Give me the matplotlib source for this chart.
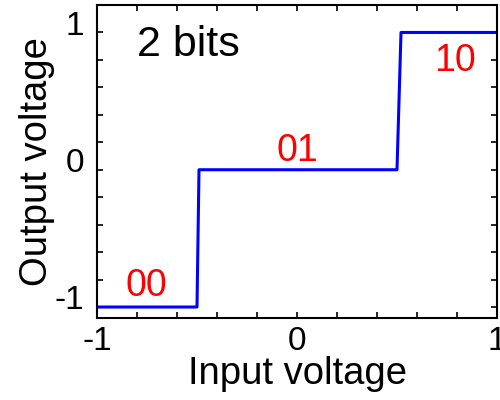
import numpy as np
import matplotlib
matplotlib.use('Agg')
import matplotlib.pyplot as plt
from matplotlib.ticker import MultipleLocator
from matplotlib.transforms import ScaledTranslation

plt.rcParams['font.family'] = ['Liberation Sans', 'DejaVu Sans']
plt.rcParams['axes.unicode_minus'] = False

# transfer curve of a 2-bit quantizer
v_in = [-1, -0.5, -0.49, 0.5, 0.52, 1]
v_out = [-1, -1, 0, 0, 1, 1]

# binary codes written on each level
codes = ['00', '01', '10']
code_x = [-0.755, 0.0, 0.79]
code_y = [-0.85, 0.14, 0.79]

fig = plt.figure(figsize=(5, 4), dpi=100)
ax = fig.add_axes([0.194, 0.205, 0.8, 0.7825])

ax.plot(v_in, v_out, color='#0000ff', lw=2.2)

for c, x, y in zip(codes, code_x, code_y):
    ax.text(x, y, c, color='#ff0000', fontsize=27, ha='center', va='center')

ax.text(-0.545, 0.91, '2 bits', fontsize=31, ha='center', va='center')

ax.set_xlim(-1, 1)
ax.set_ylim(-1.08, 1.2)
ax.set_xticks([-1, 0, 1])
ax.set_yticks([-1, 0, 1])
ax.xaxis.set_minor_locator(MultipleLocator(0.2))
ax.yaxis.set_minor_locator(MultipleLocator(0.2))
ax.tick_params(which='both', direction='in', top=True, right=True,
               length=4, width=1.2, labelsize=24)
ax.tick_params(axis='x', pad=6)
ax.tick_params(axis='y', pad=9)
for lab in ax.get_yticklabels():
    lab.set_transform(lab.get_transform() + ScaledTranslation(0, 7 / 72, fig.dpi_scale_trans))
for s in ax.spines.values():
    s.set_linewidth(1.5)

ax.set_xlabel('Input voltage', fontsize=27.5, labelpad=-1)
ax.set_ylabel('Output voltage', fontsize=27.5, labelpad=0)

fig.savefig('out.png', dpi=100)
